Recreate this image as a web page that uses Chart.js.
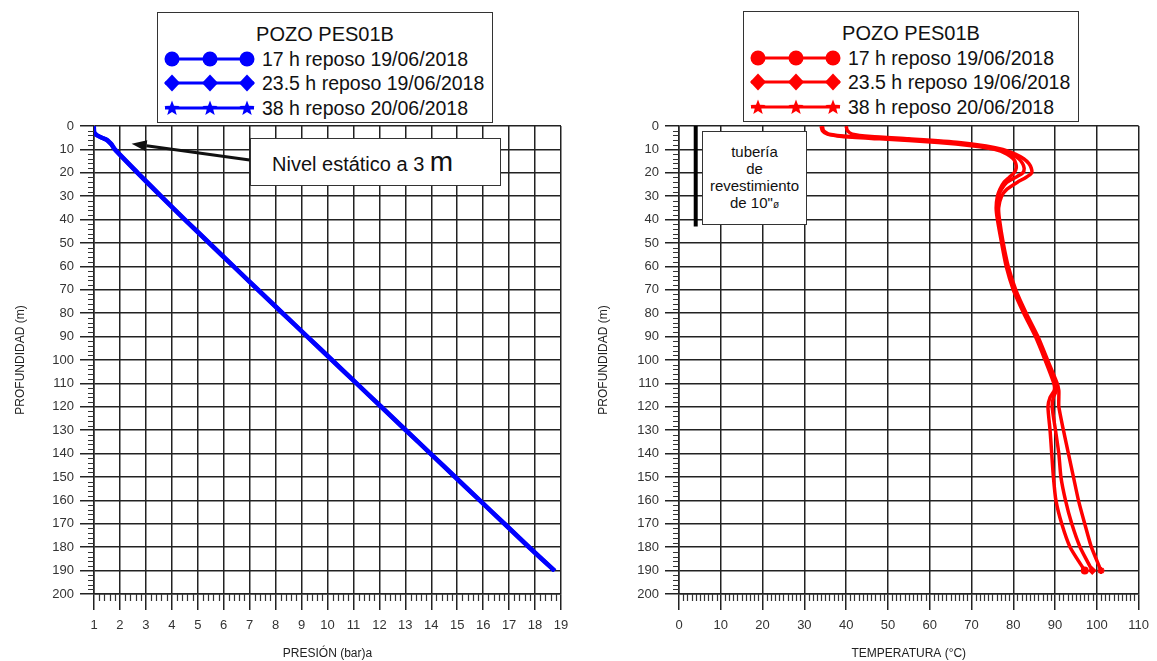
<!DOCTYPE html>
<html>
<head>
<meta charset="utf-8">
<script src="https://cdn.jsdelivr.net/npm/chart.js@4.4.1/dist/chart.umd.min.js"></script>
<style>
  body { margin: 0; background: #fff; font-family: "Liberation Sans", Arial, sans-serif; }
  #wrap { position: relative; width: 1157px; height: 661px; overflow: hidden; }
  canvas { position: absolute; top: 0; }
  .caja { position: absolute; border: 1.5px solid #333; background: #fff; box-sizing: border-box; color: #111; }
  .leyenda { width: 336px; height: 111px; }
  .leyenda .tit { position: absolute; left: 0; right: 0; top: 9px; text-align: center; font-size: 20px; line-height: 24px; }
  .leyenda .fila { position: absolute; left: 0; height: 24px; width: 330px; }
  .leyenda svg { position: absolute; left: 6px; top: 2px; }
  .leyenda span { position: absolute; left: 104px; top: 0; font-size: 19.5px; line-height: 24px; white-space: nowrap; }
  #nivel { left: 250px; top: 138px; width: 251px; height: 48px; font-size: 20px; line-height: 46px; padding-left: 21px; white-space: nowrap; }
  #nivel b { font-weight: normal; font-size: 28px; }
  #tuberia { left: 702px; top: 131px; width: 105px; height: 94px; font-size: 15px; line-height: 17px; text-align: center; padding-top: 11px; }
  #tuberia small { font-size: 10px; }
</style>
</head>
<body>
<div id="wrap">
  <canvas id="presion" width="578" height="661" style="left:0"></canvas>
  <canvas id="temperatura" width="577" height="661" style="left:580px"></canvas>
  <div class="caja leyenda" id="leyPresion" style="left:157px;top:12px"></div>
  <div class="caja leyenda" id="leyTemp" style="left:743px;top:11px"></div>
  <div class="caja" id="nivel">Nivel estático a 3 <b>m</b></div>
  <div class="caja" id="tuberia">tubería<br>de<br>revestimiento<br>de 10"<small>ø</small></div>
</div>
<script>
const tituloLeyenda = 'POZO PES01B';
const series = ['17 h reposo 19/06/2018', '23.5 h reposo 19/06/2018', '38 h reposo 20/06/2018'];
const marcadores = ['circle', 'rectRot', 'star'];

// eje de profundidad (m)
const ejeProf = [0, 10, 20, 30, 40, 50, 60, 70, 80, 90, 100, 110, 120, 130, 140, 150, 160, 170, 180, 190, 200];
const ejePresion = [1, 2, 3, 4, 5, 6, 7, 8, 9, 10, 11, 12, 13, 14, 15, 16, 17, 18, 19];
const ejeTemp = [0, 10, 20, 30, 40, 50, 60, 70, 80, 90, 100, 110];

// presion (bar)a
const profPresion = [0, 2, 3, 4, 5, 6, 7, 8, 10, 20, 30, 40, 50, 60, 70, 80, 90, 100, 110, 120, 130, 140, 150, 160, 170, 180, 190];
const presion17h = [1.00, 1.00, 1.02, 1.12, 1.30, 1.50, 1.60, 1.68, 1.80, 2.68, 3.58, 4.50, 5.44, 6.38, 7.32, 8.27, 9.22, 10.17, 11.12, 12.07, 13.02, 13.97, 14.92, 15.87, 16.82, 17.77, 18.75];
const presion23h = [1.00, 1.01, 1.03, 1.14, 1.32, 1.52, 1.62, 1.70, 1.82, 2.70, 3.60, 4.52, 5.46, 6.40, 7.34, 8.29, 9.24, 10.19, 11.14, 12.09, 13.04, 13.99, 14.94, 15.89, 16.84, 17.79, 18.77];
const presion38h = [1.00, 1.00, 1.01, 1.10, 1.28, 1.48, 1.58, 1.67, 1.79, 2.66, 3.56, 4.48, 5.42, 6.36, 7.30, 8.25, 9.20, 10.15, 11.10, 12.05, 13.00, 13.95, 14.90, 15.85, 16.80, 17.75, 18.73];

// temperatura (°C)
const profTemp = [0, 2, 3.5, 4.5, 5.5, 7, 8.5, 10, 12, 14, 16, 18, 20, 22, 24, 27, 30, 35, 40, 50, 60, 70, 80, 90, 100, 110, 113, 116, 120, 130, 140, 150, 160, 170, 180, 190];
const temp17h = [34.0, 34.3, 35.5, 39, 48, 62, 70.5, 75.5, 78.5, 80, 80.6, 80.7, 80.2, 79, 77.8, 76.8, 76.2, 75.9, 76.2, 77.2, 78.3, 80, 82.5, 85.3, 87.6, 89.7, 89.8, 88.8, 88.3, 88.8, 89.2, 89.6, 90.2, 91.6, 93.6, 97.1];
const temp23h = [34.3, 34.6, 36, 41, 51, 64.5, 72, 76.5, 79.5, 81.3, 82.2, 82.6, 82.3, 80.5, 78.5, 77.2, 76.5, 76.1, 76.4, 77.4, 78.5, 80.3, 82.8, 85.6, 87.9, 90.1, 90.3, 89.6, 89.3, 90.1, 90.9, 91.4, 92.5, 94, 96, 98.9];
const temp38h = [40, 40.3, 41.5, 46, 55, 67, 73.5, 77.5, 80.5, 82.5, 83.7, 84.3, 84.4, 83, 81, 78.5, 77.2, 76.5, 76.7, 77.6, 78.8, 80.6, 83.1, 85.9, 88.2, 90.5, 90.9, 90.9, 90.9, 92, 93.2, 94.4, 95.6, 97.1, 98.7, 101];

// tuberia de revestimiento
const tuberiaProf = [0, 43];
const tuberiaTemp = [4, 4];

Chart.defaults.font.family = '"Liberation Sans", Arial, sans-serif';
const negro = '#222';

function puntos(xs, ys) { return ys.map((y, i) => ({ x: xs[i], y: y })); }

// marcas menores de los ejes
const marcasMenores = {
  id: 'marcasMenores',
  afterDraw(chart, args, opts) {
    const { ctx, chartArea: a, scales: { x, y } } = chart;
    ctx.save();
    ctx.strokeStyle = '#333';
    ctx.lineWidth = 1.2;
    ctx.beginPath();
    let n = Math.round((x.max - x.min) / opts.x);
    for (let i = 0; i <= n; i++) {
      const v = x.min + i * opts.x;
      const r = v / opts.xMayor;
      if (Math.abs(r - Math.round(r)) < 1e-6) continue;
      const px = Math.round(x.getPixelForValue(v)) + 0.5;
      ctx.moveTo(px, a.bottom);
      ctx.lineTo(px, a.bottom + 7);
    }
    n = Math.round((y.max - y.min) / opts.y);
    for (let i = 0; i <= n; i++) {
      const v = y.min + i * opts.y;
      if (v % opts.yMayor === 0) continue;
      const py = Math.round(y.getPixelForValue(v)) + 0.5;
      ctx.moveTo(a.left - 6, py);
      ctx.lineTo(a.left, py);
    }
    ctx.stroke();
    ctx.restore();
  }
};

// flecha del nivel estatico
const flecha = {
  id: 'flecha',
  afterDatasetsDraw(chart, args, opts) {
    if (!opts.desde) return;
    const { ctx, scales: { x, y } } = chart;
    const x0 = x.getPixelForValue(opts.desde[0]), y0 = y.getPixelForValue(opts.desde[1]);
    const x1 = x.getPixelForValue(opts.hasta[0]), y1 = y.getPixelForValue(opts.hasta[1]);
    const ang = Math.atan2(y1 - y0, x1 - x0);
    const largo = 15, ancho = 5.5;
    const bx = x1 - largo * Math.cos(ang), by = y1 - largo * Math.sin(ang);
    ctx.save();
    ctx.strokeStyle = '#111';
    ctx.fillStyle = '#111';
    ctx.lineWidth = 3;
    ctx.beginPath();
    ctx.moveTo(x0, y0);
    ctx.lineTo(bx, by);
    ctx.stroke();
    ctx.beginPath();
    ctx.moveTo(x1, y1);
    ctx.lineTo(bx + ancho * Math.sin(ang), by - ancho * Math.cos(ang));
    ctx.lineTo(bx - ancho * Math.sin(ang), by + ancho * Math.cos(ang));
    ctx.closePath();
    ctx.fill();
    ctx.restore();
  }
};

function dataset(label, xs, ys, color, estilo, grosor, radioFinal) {
  return {
    label: label,
    data: puntos(xs, ys),
    borderColor: color,
    backgroundColor: color,
    borderWidth: grosor,
    tension: 0.2,
    pointStyle: estilo,
    pointRadius: c => c.dataIndex === c.dataset.data.length - 1 ? radioFinal : 0,
    pointBorderWidth: 2,
    pointBorderColor: color,
    pointBackgroundColor: color
  };
}

function opciones(ticksX, tituloX, anchoY, padTitulo, padDer, menores, extra) {
  return {
    responsive: false,
    animation: false,
    devicePixelRatio: 1,
    layout: { padding: { top: 126, right: padDer, left: 0, bottom: 0 } },
    plugins: {
      legend: { display: false },
      tooltip: { enabled: false },
      marcasMenores: menores,
      flecha: extra || {}
    },
    scales: {
      x: {
        type: 'linear',
        position: 'bottom',
        min: ticksX[0],
        max: ticksX[ticksX.length - 1],
        afterBuildTicks: s => { s.ticks = ticksX.map(v => ({ value: v })); },
        afterFit: s => { s.height = 67; },
        ticks: { autoSkip: false, maxRotation: 0, padding: 8, color: '#333', font: { size: 13 } },
        grid: { color: negro, lineWidth: 1.5, tickLength: 16, tickColor: negro, tickWidth: 1.5 },
        border: { color: negro, width: 1.5 },
        title: { display: true, text: tituloX, color: '#222', font: { size: 12 }, padding: { top: 0, bottom: 0 } }
      },
      y: {
        type: 'linear',
        reverse: true,
        min: 0,
        max: 200,
        afterBuildTicks: s => { s.ticks = ejeProf.map(v => ({ value: v })); },
        afterFit: s => { s.width = anchoY; },
        ticks: { autoSkip: false, padding: 6, color: '#333', font: { size: 13 } },
        grid: { color: negro, lineWidth: 1.5, tickLength: 14, tickColor: negro, tickWidth: 1.5 },
        border: { color: negro, width: 1.5 },
        title: { display: true, text: 'PROFUNDIDAD (m)', color: '#222', font: { size: 12 }, padding: { top: padTitulo, bottom: 0 } }
      }
    }
  };
}

const azul = '#0000ff', rojo = '#ff0000';

new Chart(document.getElementById('presion'), {
  type: 'line',
  data: {
    datasets: [
      dataset(series[0], presion17h, profPresion, azul, marcadores[0], 4, 0),
      dataset(series[1], presion23h, profPresion, azul, marcadores[1], 4, 0),
      dataset(series[2], presion38h, profPresion, azul, marcadores[2], 4, 0)
    ]
  },
  options: opciones(ejePresion, 'PRESIÓN (bar)a', 94, 13, 17,
    { x: 0.2, xMayor: 1, y: 2, yMayor: 10 },
    { desde: [7.0, 14.5], hasta: [2.45, 7.6] }),
  plugins: [marcasMenores, flecha]
});

const tuberia = {
  label: 'tubería',
  data: puntos(tuberiaTemp, tuberiaProf),
  borderColor: '#000',
  borderWidth: 4,
  pointRadius: 0,
  tension: 0
};

new Chart(document.getElementById('temperatura'), {
  type: 'line',
  data: {
    datasets: [
      tuberia,
      dataset(series[0], temp17h, profTemp, rojo, marcadores[0], 3.5, 3),
      dataset(series[1], temp23h, profTemp, rojo, marcadores[1], 3.5, 3),
      dataset(series[2], temp38h, profTemp, rojo, marcadores[2], 3.5, 3.5)
    ]
  },
  options: opciones(ejeTemp, 'TEMPERATURA (°C)', 99, 16, 11,
    { x: 1, xMayor: 10, y: 2, yMayor: 10 }),
  plugins: [marcasMenores, flecha]
});

// leyendas en html con muestras de linea y marcador
function muestra(color, estilo) {
  const cx = [8, 46, 83];
  let s = `<svg width="92" height="20"><line x1="1" y1="10" x2="90" y2="10" stroke="${color}" stroke-width="3"/>`;
  cx.forEach(c => {
    if (estilo === 'circle') {
      s += `<circle cx="${c}" cy="10" r="7.5" fill="${color}"/>`;
    } else if (estilo === 'rectRot') {
      s += `<polygon points="${c},1.5 ${c + 8},10 ${c},18.5 ${c - 8},10" fill="${color}"/>`;
    } else {
      let p = [];
      for (let k = 0; k < 10; k++) {
        const r = k % 2 === 0 ? 8 : 3.4;
        const a = -Math.PI / 2 + k * Math.PI / 5;
        p.push((c + r * Math.cos(a)).toFixed(2) + ',' + (10.5 + r * Math.sin(a)).toFixed(2));
      }
      s += `<polygon points="${p.join(' ')}" fill="${color}"/>`;
    }
  });
  return s + '</svg>';
}

function leyenda(id, color) {
  const filas = [34, 58, 83];
  let html = `<div class="tit">${tituloLeyenda}</div>`;
  series.forEach((s, i) => {
    html += `<div class="fila" style="top:${filas[i]}px">${muestra(color, marcadores[i])}<span>${s}</span></div>`;
  });
  document.getElementById(id).innerHTML = html;
}
leyenda('leyPresion', azul);
leyenda('leyTemp', rojo);
</script>
</body>
</html>
